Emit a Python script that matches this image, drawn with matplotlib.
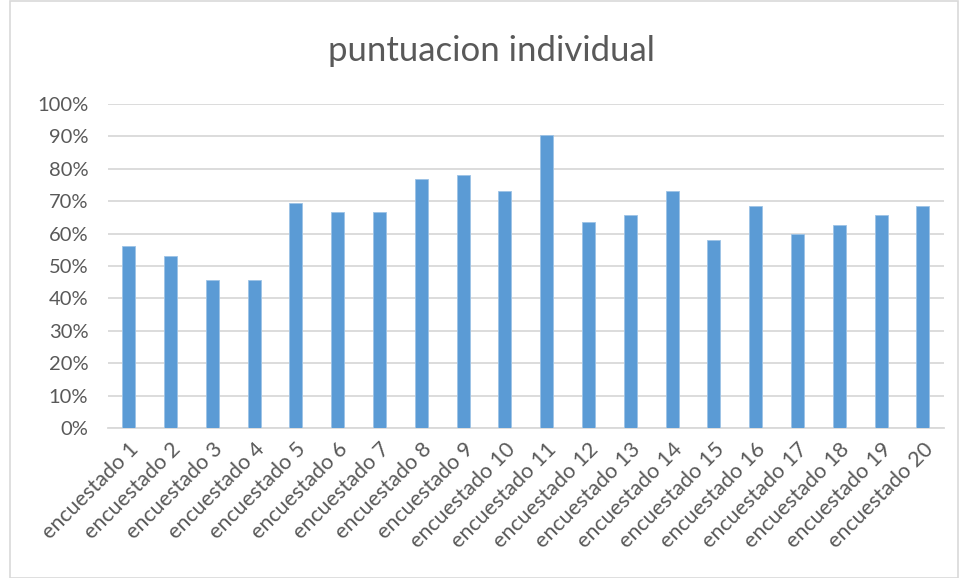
import matplotlib
matplotlib.use("Agg")
import matplotlib.pyplot as plt
from matplotlib.patches import Rectangle
from matplotlib.ticker import PercentFormatter

# values
encuestados = [f"encuestado {i}" for i in range(1, 21)]
puntuacion = [0.561, 0.532, 0.456, 0.456, 0.694, 0.666, 0.666, 0.770, 0.780, 0.732,
              0.905, 0.637, 0.657, 0.732, 0.579, 0.685, 0.599, 0.628, 0.657, 0.685]
y_ticks = [i / 10 for i in range(11)]

plt.rcParams["font.family"] = ["Lato", "DejaVu Sans"]
TXT = "#595959"

fig = plt.figure(figsize=(9.62, 5.78), dpi=100, facecolor="white")
ax = fig.add_axes([0.112, 0.2595, 0.869, 0.5605])

x = range(len(encuestados))
ax.bar(x, puntuacion, width=0.31, color="#5b9bd5", edgecolor="#9dc3e6", linewidth=0.6, zorder=3)

ax.set_ylim(0, 1)
ax.set_xlim(-0.5, len(encuestados) - 0.5)
ax.set_yticks(y_ticks)
ax.yaxis.set_major_formatter(PercentFormatter(1.0, decimals=0))
ax.grid(axis="y", color="#d9d9d9", linewidth=1.3, zorder=0)

for s in ["top", "right", "left"]:
    ax.spines[s].set_visible(False)
ax.spines["bottom"].set_color("#d9d9d9")
ax.spines["bottom"].set_linewidth(1.3)

ax.tick_params(axis="y", length=0, pad=14, labelsize=14.5, labelcolor=TXT)
ax.tick_params(axis="x", length=0, pad=8, labelsize=15.5, labelcolor=TXT)
ax.set_xticks(list(x))
ax.set_xticklabels(encuestados, rotation=45, ha="right", rotation_mode="anchor")

fig.text(0.511, 0.912, "puntuacion individual", ha="center", va="center",
         fontsize=25, color=TXT)

# chart border
fig.patches.append(Rectangle((0.0105, 0.0), 0.985, 0.998, transform=fig.transFigure,
                             fill=False, edgecolor="#d9d9d9", linewidth=1.2))

fig.savefig("out.png", dpi=100, facecolor="white")
